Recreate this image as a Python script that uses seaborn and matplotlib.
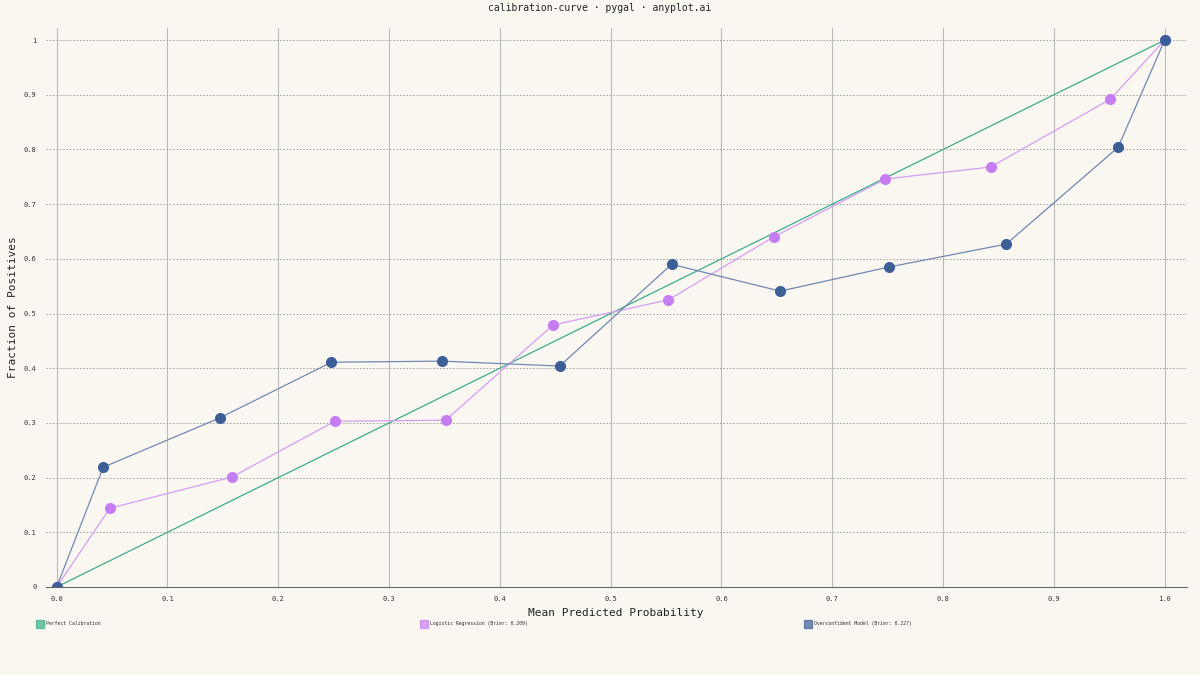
import matplotlib
matplotlib.use("Agg")
import matplotlib.pyplot as plt
import seaborn as sns
import pandas as pd

perfect_x = [0.0, 1.0]
perfect_y = [0.0, 1.0]
logit_x = [0.0, 0.048, 0.158, 0.251, 0.351, 0.448, 0.552, 0.647, 0.748, 0.843, 0.951, 1.0]
logit_y = [0.0, 0.144, 0.201, 0.303, 0.305, 0.479, 0.525, 0.640, 0.746, 0.768, 0.892, 1.0]
over_x = [0.0, 0.042, 0.147, 0.248, 0.348, 0.454, 0.555, 0.653, 0.751, 0.857, 0.958, 1.0]
over_y = [0.0, 0.219, 0.309, 0.411, 0.413, 0.404, 0.590, 0.541, 0.585, 0.627, 0.804, 1.0]
labels = ["Perfect Calibration", "Logistic Regression (Brier: 0.209)", "Overconfident Model (Brier: 0.227)"]
colors = ["#3aae8c", "#c77df2", "#3d5f98"]

sns.set_style("white")
plt.rcParams["font.family"] = ["DejaVu Sans Mono"]
bg = "#faf7f1"
fig = plt.figure(figsize=(12, 6.75), dpi=100, facecolor=bg)
ax = fig.add_axes([0.038, 0.1304, 0.951, 0.828], facecolor=bg)

sns.lineplot(x=perfect_x, y=perfect_y, ax=ax, color=colors[0], lw=0.9)
sns.lineplot(x=logit_x, y=logit_y, ax=ax, color=colors[1], lw=0.9, marker="o", markersize=8, markeredgewidth=0)
ax.lines[-1].set_color("#d59cf3"); ax.lines[-1].set_markerfacecolor(colors[1])
sns.lineplot(x=over_x, y=over_y, ax=ax, color=colors[2], lw=0.9, marker="o", markersize=8, markeredgewidth=0)
ax.lines[-1].set_color("#7088b3"); ax.lines[-1].set_markerfacecolor(colors[2])

ax.set_xlim(-0.01, 1.02)
ax.set_ylim(0, 1.022)
ticks = [i / 10 for i in range(11)]
ax.set_xticks(ticks)
ax.set_yticks(ticks)
ax.set_xticklabels(["0.0"] + [f"{t:.1f}" for t in ticks[1:]], fontsize=5)
ax.set_yticklabels(["0"] + [f"{t:.1f}" for t in ticks[1:-1]] + ["1"], fontsize=5)
ax.tick_params(length=3, color="#999999", labelcolor="#333333")
ax.grid(axis="x", color="#bbbbbb", lw=0.8)
ax.grid(axis="y", color="#999999", lw=0.6, ls=(0, (2, 2)))
ax.set_axisbelow(True)
for s in ["top", "right", "left"]:
    ax.spines[s].set_visible(False)
ax.spines["bottom"].set_color("#666666")
ax.spines["bottom"].set_linewidth(0.8)
ax.set_xlabel("Mean Predicted Probability", fontsize=8, color="#222222")
ax.set_ylabel("Fraction of Positives", fontsize=8, color="#222222")
fig.suptitle("calibration-curve · pygal · anyplot.ai", fontsize=7, y=0.995, color="#222222")

for i, (lab, c) in enumerate(zip(labels, colors)):
    fx = 0.030 + i * 0.32
    fig.patches.append(plt.Rectangle((fx, 0.070), 0.007, 0.012, transform=fig.transFigure, color=c, alpha=0.7))
    fig.text(fx + 0.008, 0.076, lab, fontsize=3.5, va="center", color="#333333")

fig.savefig("out.png", dpi=100, facecolor=bg)
